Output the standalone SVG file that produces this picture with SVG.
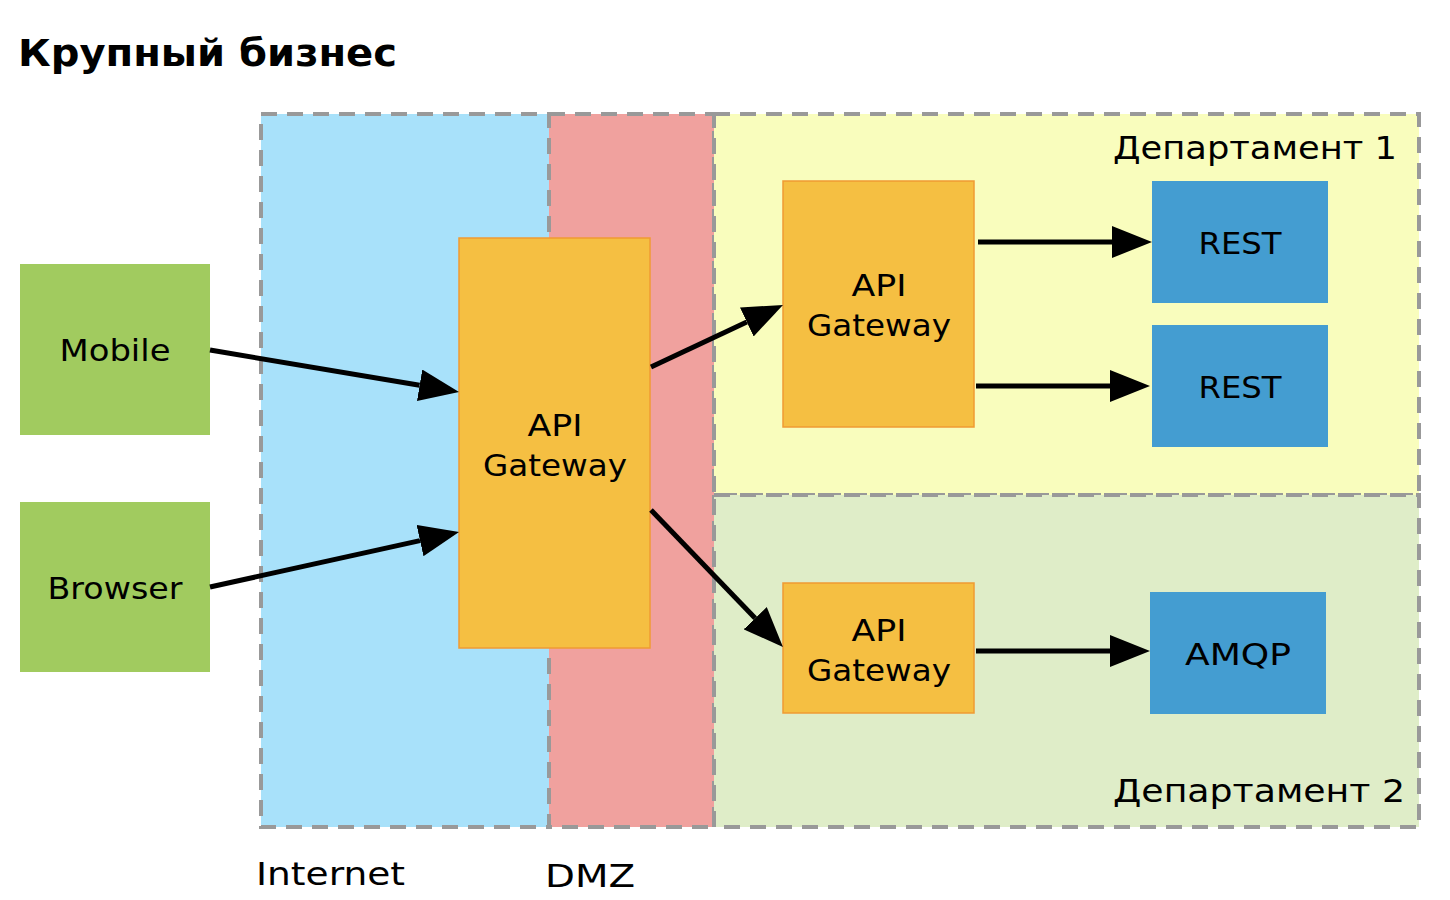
<svg xmlns="http://www.w3.org/2000/svg" width="1450" height="900" viewBox="0 0 1450 900">
<style>
text{font-family:"DejaVu Sans","Open Sans",sans-serif;fill:#000}
.lbl{font-size:31px;text-anchor:middle}
.zl{font-size:32px}
.zone{stroke:#999;stroke-width:4;stroke-dasharray:16 10}
.client{fill:#a1cb5f}
.gw{fill:#f5bf42;stroke:#ef9b33;stroke-width:1.5}
.svc{fill:#449dd1}
.arr{stroke:#000;stroke-width:5;fill:none;marker-end:url(#ah)}
</style>
<defs>
<marker id="ah" markerUnits="userSpaceOnUse" markerWidth="40" markerHeight="32" refX="0" refY="16" orient="auto" viewBox="0 0 40 32">
<path d="M0,0 L40,16 L0,32 Z" fill="#000"/>
</marker>
</defs>
<rect width="1450" height="900" fill="#fff"/>
<text x="18" y="66" style="font-size:37px;font-weight:bold" textLength="379" lengthAdjust="spacingAndGlyphs">Крупный бизнес</text>
<g id="zone-internet"><rect class="zone" x="261" y="114" width="288" height="713" fill="#a8e1fa"/><text class="zl" x="256" y="885" textLength="149" lengthAdjust="spacingAndGlyphs">Internet</text></g>
<g id="zone-dmz"><rect class="zone" x="549" y="114" width="165" height="713" fill="#f0a19e"/><text class="zl" x="545" y="887" textLength="90" lengthAdjust="spacingAndGlyphs">DMZ</text></g>
<g id="zone-dept1"><rect class="zone" x="714" y="114" width="705" height="381" fill="#f9fdbd"/><text class="zl" x="1113" y="159" textLength="284" lengthAdjust="spacingAndGlyphs">Департамент 1</text></g>
<g id="zone-dept2"><rect class="zone" x="714" y="495" width="705" height="332" fill="#dfedc8"/><text class="zl" x="1113" y="802" textLength="292" lengthAdjust="spacingAndGlyphs">Департамент 2</text></g>
<g id="mobile"><rect class="client" x="20" y="264" width="190" height="171"/><text class="lbl" x="115" y="361" textLength="111" lengthAdjust="spacingAndGlyphs">Mobile</text></g>
<g id="browser"><rect class="client" x="20" y="502" width="190" height="170"/><text class="lbl" x="115" y="599" textLength="135" lengthAdjust="spacingAndGlyphs">Browser</text></g>
<g id="gw-main"><rect class="gw" x="459" y="238" width="191" height="410"/><text class="lbl" x="555" y="436" textLength="55" lengthAdjust="spacingAndGlyphs">API</text><text class="lbl" x="555" y="476" textLength="144" lengthAdjust="spacingAndGlyphs">Gateway</text></g>
<g id="gw-dept1"><rect class="gw" x="783" y="181" width="191" height="246"/><text class="lbl" x="879" y="296" textLength="55" lengthAdjust="spacingAndGlyphs">API</text><text class="lbl" x="879" y="336" textLength="144" lengthAdjust="spacingAndGlyphs">Gateway</text></g>
<g id="rest1"><rect class="svc" x="1152" y="181" width="176" height="122"/><text class="lbl" x="1240" y="254" textLength="83" lengthAdjust="spacingAndGlyphs">REST</text></g>
<g id="rest2"><rect class="svc" x="1152" y="325" width="176" height="122"/><text class="lbl" x="1240" y="398" textLength="83" lengthAdjust="spacingAndGlyphs">REST</text></g>
<g id="gw-dept2"><rect class="gw" x="783" y="583" width="191" height="130"/><text class="lbl" x="879" y="641" textLength="55" lengthAdjust="spacingAndGlyphs">API</text><text class="lbl" x="879" y="681" textLength="144" lengthAdjust="spacingAndGlyphs">Gateway</text></g>
<g id="amqp"><rect class="svc" x="1150" y="592" width="176" height="122"/><text class="lbl" x="1238" y="665" textLength="106" lengthAdjust="spacingAndGlyphs">AMQP</text></g>
<g id="connectors">
<line class="arr" x1="210" y1="350" x2="419.6" y2="385.3"/>
<line class="arr" x1="210" y1="587" x2="420" y2="540.6"/>
<line class="arr" x1="651" y1="367" x2="746.8" y2="322"/>
<line class="arr" x1="651" y1="510" x2="755.2" y2="618.2"/>
<line class="arr" x1="978" y1="242" x2="1112" y2="242"/>
<line class="arr" x1="976" y1="386" x2="1110" y2="386"/>
<line class="arr" x1="976" y1="651" x2="1110" y2="651"/>
</g>
</svg>
